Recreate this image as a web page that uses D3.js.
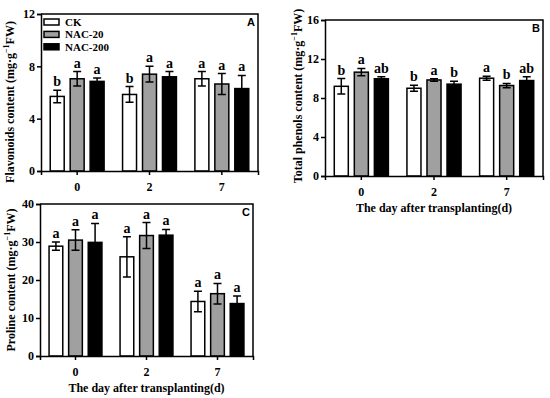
<!DOCTYPE html>
<html>
<head>
<meta charset="utf-8">
<script src="https://cdn.jsdelivr.net/npm/d3@7"></script>
<style>
  body { margin: 0; background: #fff; }
  text { font-family: "Liberation Serif", "Times New Roman", serif; font-weight: bold; }
</style>
</head>
<body>
<div id="chart"></div>
<script>
// groups on the x axis and the three treatments
const days = ["0", "2", "7"];
const treatments = ["CK", "NAC-20", "NAC-200"];
const fills = ["#ffffff", "#a0a0a0", "#000000"];

// A: flavonoids, rows = day, cols = treatment
const flavMean = [[5.7, 7.05, 6.85], [5.85, 7.4, 7.2], [7.05, 6.65, 6.3]];
const flavErr  = [[0.48, 0.55, 0.25], [0.6, 0.6, 0.4], [0.55, 0.8, 1.0]];
const flavSig  = [["b", "a", "a"], ["b", "a", "a"], ["a", "a", "a"]];
const flavTicks = [0, 4, 8, 12];

// B: total phenols
const phenMean = [[9.2, 10.65, 9.97], [9.0, 9.85, 9.42], [10.03, 9.28, 9.79]];
const phenErr  = [[0.8, 0.38, 0.2], [0.3, 0.12, 0.3], [0.2, 0.22, 0.38]];
const phenSig  = [["b", "a", "ab"], ["b", "a", "b"], ["a", "b", "ab"]];
const phenTicks = [0, 4, 8, 12, 16];

// C: proline
const proMean = [[28.9, 30.5, 29.9], [26.1, 31.7, 31.8], [14.35, 16.4, 13.8]];
const proErr  = [[1.1, 2.7, 5.0], [5.3, 3.4, 1.5], [2.7, 2.7, 2.0]];
const proSig  = [["a", "a", "a"], ["a", "a", "a"], ["a", "a", "a"]];
const proTicks = [0, 10, 20, 30, 40];

const svg = d3.select("#chart").append("svg")
  .attr("width", 550).attr("height", 398);

function drawPanel(cfg) {
  const g = svg.append("g");
  const x = d3.scaleBand().domain(days).range([cfg.left, cfg.right])
    .paddingInner(0.2).paddingOuter(0.1);
  const xs = d3.scaleBand().domain(treatments).range([0, x.bandwidth()])
    .paddingInner(0.3).paddingOuter(0.1);
  const y = d3.scaleLinear().domain([0, d3.max(cfg.ticks)]).range([cfg.bottom, cfg.top]);

  // frame (top + right)
  g.append("path")
    .attr("d", `M${cfg.left},${cfg.top}H${cfg.right}V${cfg.bottom}`)
    .attr("fill", "none").attr("stroke", "#000").attr("stroke-width", 1.5);

  const rows = [];
  days.forEach((d, i) => treatments.forEach((t, j) => rows.push({
    day: d, trt: t, j: j, m: cfg.mean[i][j], e: cfg.err[i][j], s: cfg.sig[i][j]
  })));

  const bar = g.selectAll("g.bar").data(rows).join("g").attr("class", "bar")
    .attr("transform", d => `translate(${x(d.day) + xs(d.trt)},0)`);
  const w = xs.bandwidth();

  bar.append("rect")
    .attr("x", 0).attr("width", w)
    .attr("y", d => y(d.m)).attr("height", d => y(0) - y(d.m))
    .attr("fill", d => fills[d.j]).attr("stroke", "#000").attr("stroke-width", 1.5);

  // error bars
  bar.append("path")
    .attr("d", d => {
      const c = w / 2, top = y(d.m + d.e), bot = y(d.m - d.e);
      return `M${c},${top}V${bot}M${c - 4},${top}H${c + 4}M${c - 4},${bot}H${c + 4}`;
    })
    .attr("fill", "none").attr("stroke", "#000").attr("stroke-width", 1.5);

  bar.append("text")
    .attr("x", w / 2).attr("y", d => y(d.m + d.e) - 4)
    .attr("text-anchor", "middle").attr("font-size", 14)
    .text(d => d.s);

  // axes
  const ya = g.append("g").attr("transform", `translate(${cfg.left},0)`)
    .call(d3.axisLeft(y).tickValues(cfg.ticks).tickSize(4).tickPadding(2));
  const xa = g.append("g").attr("transform", `translate(0,${cfg.bottom})`)
    .call(d3.axisBottom(x).tickSize(4).tickPadding(7));
  [ya, xa].forEach(a => {
    a.select(".domain").attr("stroke-width", 1.5);
    a.selectAll(".tick line").attr("stroke-width", 1.5);
    a.selectAll("text").attr("font-size", 12).attr("fill", "#000")
      .style("font-family", "'Liberation Serif', serif").style("font-weight", "bold");
  });

  // panel letter
  g.append("text")
    .attr("x", cfg.right - 3).attr("y", cfg.top + 12)
    .attr("text-anchor", "end").attr("font-size", 11)
    .style("font-family", "'Liberation Sans', Arial, sans-serif")
    .text(cfg.label);

  // y title with superscript
  const yt = g.append("text")
    .attr("transform", `translate(${cfg.ytitleX},${cfg.ytitleY}) rotate(-90)`)
    .attr("text-anchor", "middle").attr("font-size", 12);
  yt.append("tspan").text(cfg.ytitle + " (mg·g");
  yt.append("tspan").attr("dy", -5).attr("font-size", 8).text("−1");
  yt.append("tspan").attr("dy", 5).text("FW)");

  if (cfg.xtitle) {
    g.append("text")
      .attr("x", (cfg.left + cfg.right) / 2).attr("y", cfg.bottom + 36)
      .attr("text-anchor", "middle").attr("font-size", 12)
      .text(cfg.xtitle);
  }

  if (cfg.legend) {
    const lg = g.append("g").attr("transform", `translate(${cfg.left + 3},${cfg.top + 5})`);
    treatments.forEach((t, j) => {
      lg.append("rect").attr("x", 0).attr("y", j * 12.4).attr("width", 15).attr("height", 6)
        .attr("fill", fills[j]).attr("stroke", "#000").attr("stroke-width", 1.5);
      lg.append("text").attr("x", 21).attr("y", j * 12.4 + 7).attr("font-size", 11).text(t);
    });
  }
}

drawPanel({
  left: 41, right: 258, top: 14, bottom: 171,
  mean: flavMean, err: flavErr, sig: flavSig, ticks: flavTicks,
  label: "A", ytitle: "Flavonoids content", ytitleX: 14, ytitleY: 102, legend: true
});
drawPanel({
  left: 325, right: 543, top: 20, bottom: 176,
  mean: phenMean, err: phenErr, sig: phenSig, ticks: phenTicks,
  label: "B", ytitle: "Total phenols content", ytitleX: 302, ytitleY: 96,
  xtitle: "The day after transplanting(d)"
});
drawPanel({
  left: 40, right: 253, top: 204, bottom: 356,
  mean: proMean, err: proErr, sig: proSig, ticks: proTicks,
  label: "C", ytitle: "Proline content", ytitleX: 15, ytitleY: 280,
  xtitle: "The day after transplanting(d)"
});
</script>
</body>
</html>
